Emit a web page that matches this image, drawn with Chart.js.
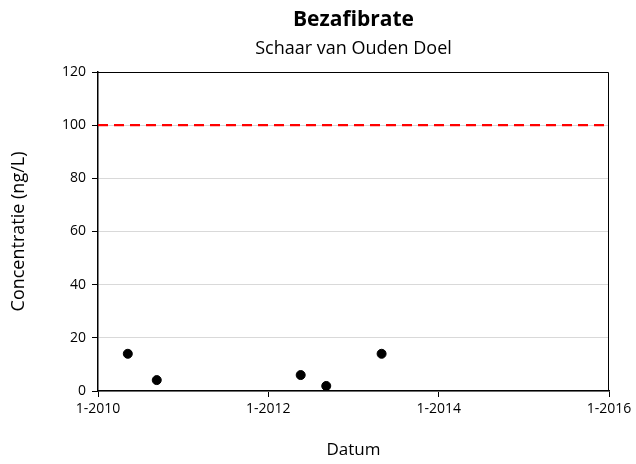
<!DOCTYPE html>
<html><head><meta charset="utf-8">
<script src="https://cdn.jsdelivr.net/npm/chart.js@4"></script>
<style>html,body{margin:0;padding:0;background:#fff}#wrap{width:636px;height:464px}</style>
</head><body><div id="wrap"><canvas id="c" width="636" height="464"></canvas></div>
<script>
// Data (x in decimal years)
const sampleDates = [2010.35, 2010.69, 2012.38, 2012.68, 2013.33];
const sampleValues = [14.0, 4.1, 6.0, 1.9, 14.0];
const limitDates = [2010, 2016];
const limitValues = [100, 100];
const xTickYears = [2010, 2012, 2014, 2016];
const yTicks = [0, 20, 40, 60, 80, 100, 120];

const FONT = "'Open Sans', 'Liberation Sans', sans-serif";

const borderPlugin = {
  id: 'areaBorder',
  afterDatasetsDraw(chart) {
    const a = chart.chartArea, ctx = chart.ctx;
    ctx.save();
    ctx.strokeStyle = '#000';
    ctx.lineWidth = 1;
    ctx.beginPath();
    ctx.moveTo(a.left, a.top + 0.5);
    ctx.lineTo(a.right - 0.5, a.top + 0.5);
    ctx.lineTo(a.right - 0.5, a.bottom);
    ctx.stroke();
    ctx.restore();
  }
};

new Chart(document.getElementById('c'), {
  type: 'scatter',
  data: {
    datasets: [
      {
        type: 'line',
        data: limitDates.map((x, i) => ({x, y: limitValues[i]})),
        borderColor: '#ff0000',
        borderWidth: 2.2,
        borderDash: [10, 6],
        pointRadius: 0,
        fill: false,
        order: 2
      },
      {
        data: sampleDates.map((x, i) => ({x, y: sampleValues[i]})),
        backgroundColor: '#000',
        borderColor: '#000',
        pointRadius: 4.5,
        order: 1
      }
    ]
  },
  options: {
    responsive: false,
    animation: false,
    layout: { padding: { left: 0, right: 27, top: 0, bottom: 4 } },
    plugins: {
      legend: { display: false },
      tooltip: { enabled: false },
      title: {
        display: true,
        fullSize: false,
        text: 'Bezafibrate',
        color: '#000',
        font: { family: FONT, size: 21, weight: 'bold' },
        padding: { top: 7.4, bottom: 5.6 }
      },
      subtitle: {
        display: true,
        fullSize: false,
        text: 'Schaar van Ouden Doel',
        color: '#000',
        font: { family: FONT, size: 18 },
        padding: { top: 0, bottom: 12.2 }
      }
    },
    scales: {
      x: {
        type: 'linear',
        min: 2010, max: 2016,
        afterBuildTicks(s) { s.ticks = xTickYears.map(v => ({value: v})); },
        afterFit(s) { s.height = 69; },
        ticks: {
          color: '#000',
          font: { family: FONT, size: 14 },
          padding: 4,
          maxRotation: 0,
          callback: v => '1-' + v
        },
        grid: { display: true, drawOnChartArea: false, drawTicks: true, tickLength: 6, color: '#000' },
        border: { display: true, color: '#000', width: 1.5 },
        title: {
          display: true, text: 'Datum', color: '#000',
          font: { family: FONT, size: 17 }, padding: { top: 14, bottom: 0 }
        }
      },
      y: {
        min: 0, max: 120,
        afterBuildTicks(s) { s.ticks = yTicks.map(v => ({value: v})); },
        afterFit(s) { s.width = 98; },
        ticks: {
          color: '#000',
          font: { family: FONT, size: 14 },
          padding: 6
        },
        grid: { color: '#d9d9d9', drawTicks: true, tickLength: 6, tickColor: '#000' },
        border: { display: true, color: '#000', width: 1.5 },
        title: {
          display: true, text: 'Concentratie (ng/L)', color: '#000',
          font: { family: FONT, size: 18 }, padding: { top: 8, bottom: 0 }
        }
      }
    }
  },
  plugins: [borderPlugin]
});
</script></body></html>
